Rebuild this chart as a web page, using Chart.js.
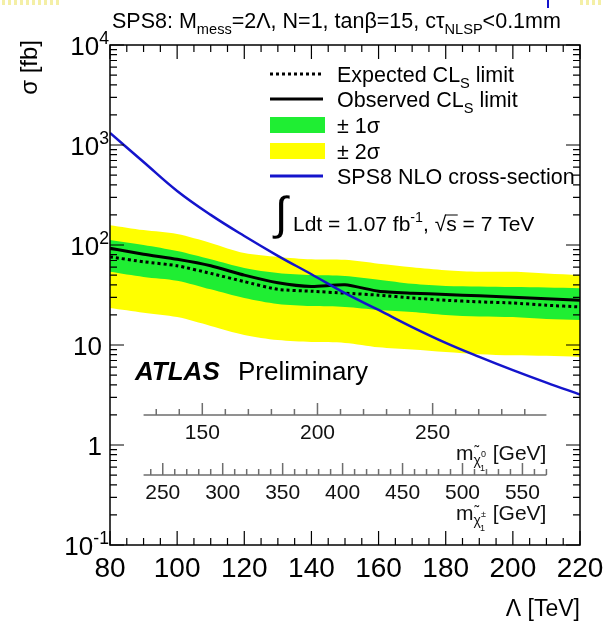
<!DOCTYPE html>
<html>
<head>
<meta charset="utf-8">
<script src="https://cdn.jsdelivr.net/npm/chart.js@4.4.1/dist/chart.umd.min.js"></script>
<style>
  html, body { margin: 0; padding: 0; background: #fff; }
  #wrap { width: 604px; height: 630px; }
</style>
</head>
<body>
<div id="wrap"><canvas id="sigmaChart" width="604" height="630"></canvas></div>
<script>
// Lambda scan points [TeV]
const lambdaTeV = [80, 90, 100, 110, 120, 130, 140, 150, 160, 170, 180, 190, 200, 210, 220];

// cross-section limits [fb]
const expectedLimit = [76, 68, 62, 52, 43, 36, 34.5, 33, 31.5, 29.5, 28, 27, 26.3, 25, 24];
const observedLimit = [93, 81, 72, 62, 50, 42, 38.5, 40, 34.5, 33, 32, 31, 30, 29, 28];
const oneSigmaUp = [112, 100, 87, 72, 59, 52.5, 50, 49, 45, 41, 39, 38.5, 38, 37.6, 37];
const oneSigmaDown = [54, 48, 44, 36, 29.5, 25.7, 24.5, 24, 22.4, 21.4, 20, 19.3, 19, 18.2, 17.8];
const twoSigmaUp = [158, 141, 129, 105, 83, 76, 72, 71, 65, 60, 56, 54, 54, 52, 50];
const twoSigmaDown = [23.4, 21, 19, 15.5, 12.6, 11.2, 10.7, 10.5, 9.5, 9.0, 8.5, 8.1, 7.9, 7.8, 7.6];
const nloXsec = [1320, 676, 347, 200, 123, 78, 51, 33, 22.4, 15.1, 10.5, 7.6, 5.6, 4.2, 3.2];

// tick labels
const xTicks = [80, 100, 120, 140, 160, 180, 200, 220];
const yTickValues = [0.1, 1, 10, 100, 1000, 10000];
const yTickLabels = [['10', '-1'], ['1', ''], ['10', ''], ['10', '2'], ['10', '3'], ['10', '4']];

// extra mass axes drawn inside the frame
const neutralinoTicks = [150, 200, 250];
const neutralinoRange = [124.5, 299.4];   // GeV over Lambda 90..210
const charginoTicks = [250, 300, 350, 400, 450, 500, 550];
const charginoRange = [234, 570];
const massAxisLambda = [90, 210];
const massAxisSigma = [2, 0.5];           // height of the two axes

const FONT = '"Liberation Sans", Arial, Helvetica, sans-serif';
const GREEN = '#1fee33';
const YELLOW = '#ffff00';
const BLUE = '#1414cc';

function pts(arr) {
    return lambdaTeV.map((x, i) => ({ x: x, y: arr[i] }));
}

function drawRich(ctx, parts, x, y, size, align) {
    let w = 0;
    const sized = parts.map(([t, k]) => {
        const s = k ? size * 0.68 : size;
        ctx.font = s + 'px ' + FONT;
        const mw = ctx.measureText(t).width;
        w += mw;
        return { t, k, s, mw };
    });
    let cx = align === 'right' ? x - w : align === 'center' ? x - w / 2 : x;
    ctx.textAlign = 'left';
    ctx.textBaseline = 'alphabetic';
    sized.forEach(p => {
        ctx.font = p.s + 'px ' + FONT;
        const dy = p.k === 'sub' ? size * 0.28 : p.k === 'sup' ? -size * 0.42 : 0;
        ctx.fillText(p.t, cx, y + dy);
        cx += p.mw;
    });
    return w;
}

// "m_chi [GeV]" with stacked indices, right aligned
function drawMassTitle(ctx, xRight, baseline, upper) {
    ctx.font = '21px ' + FONT;
    const wm = ctx.measureText('m').width;
    const wg = ctx.measureText(' [GeV]').width;
    ctx.font = '14px ' + FONT;
    const wc = ctx.measureText('\u03C7').width;
    const total = wm + wc + 6 + wg;
    let x = xRight - total;
    ctx.textAlign = 'left';
    ctx.textBaseline = 'alphabetic';
    ctx.font = '21px ' + FONT;
    ctx.fillText('m', x, baseline);
    x += wm;
    ctx.font = '14px ' + FONT;
    ctx.fillText('\u03C7', x, baseline + 5);
    ctx.fillText('\u02DC', x + 1, baseline - 4);
    ctx.font = '9px ' + FONT;
    ctx.fillText(upper, x + wc, baseline - 3);
    ctx.fillText('1', x + wc - 1, baseline + 11);
    x += wc + 6;
    ctx.font = '21px ' + FONT;
    ctx.fillText(' [GeV]', x, baseline);
}

const rootFrame = {
    id: 'rootFrame',
    afterDraw(chart) {
        const ctx = chart.ctx;
        const a = chart.chartArea;
        const xs = chart.scales.x;
        const ys = chart.scales.y;
        ctx.save();
        ctx.fillStyle = '#000';
        ctx.strokeStyle = '#000';

        // scan artefacts along the top edge
        ctx.fillStyle = '#f4efa6';
        for (let x = 2; x < 60; x += 6) ctx.fillRect(x, 0, 3, 5);
        for (let x = 580; x < 604; x += 6) ctx.fillRect(x, 0, 3, 5);
        ctx.fillStyle = BLUE;
        ctx.fillRect(547, 0, 2, 8);
        ctx.fillStyle = '#000';

        // frame
        ctx.lineWidth = 1.5;
        ctx.strokeRect(a.left, a.top, a.right - a.left, a.bottom - a.top);

        // x ticks, bottom and top
        ctx.lineWidth = 1.2;
        ctx.beginPath();
        for (let v = 80; v <= 220; v += 5) {
            const px = xs.getPixelForValue(v);
            const len = v % 20 === 0 ? 14 : 7;
            ctx.moveTo(px, a.bottom); ctx.lineTo(px, a.bottom - len);
            ctx.moveTo(px, a.top); ctx.lineTo(px, a.top + len);
        }
        // y ticks, left and right
        for (let d = -1; d <= 4; d++) {
            for (let m = 1; m <= 9; m++) {
                const v = m * Math.pow(10, d);
                if (v > 10000) break;
                const py = ys.getPixelForValue(v);
                const len = m === 1 ? 14 : 7;
                ctx.moveTo(a.left, py); ctx.lineTo(a.left + len, py);
                ctx.moveTo(a.right, py); ctx.lineTo(a.right - len, py);
            }
        }
        ctx.stroke();

        // x tick labels
        ctx.font = '28px ' + FONT;
        ctx.textAlign = 'center';
        ctx.textBaseline = 'alphabetic';
        xTicks.forEach(v => ctx.fillText(String(v), xs.getPixelForValue(v), a.bottom + 32));

        // y tick labels
        yTickValues.forEach((v, i) => {
            const py = ys.getPixelForValue(v);
            const [b, e] = yTickLabels[i];
            const parts = e ? [[b, ''], [e, 'sup']] : [[b, '']];
            drawRich(ctx, parts, e ? a.left - 1 : a.left - 8, py + 10, 26, 'right');
        });

        // axis titles
        ctx.font = '23px ' + FONT;
        ctx.textAlign = 'right';
        ctx.fillText('\u039B [TeV]', a.right, 616);
        ctx.save();
        ctx.translate(37, 40);
        ctx.rotate(-Math.PI / 2);
        ctx.font = '24px ' + FONT;
        ctx.textAlign = 'right';
        ctx.fillText('\u03C3 [fb]', 0, 0);
        ctx.restore();

        // title
        drawRich(ctx, [['SPS8: M', ''], ['mess', 'sub'], ['=2\u039B, N=1, tan\u03B2=15, c\u03C4', ''], ['NLSP', 'sub'], ['<0.1mm', '']],
            112, 28, 21.5, 'left');

        // mass axes
        const mx0 = xs.getPixelForValue(massAxisLambda[0]);
        const mx1 = xs.getPixelForValue(massAxisLambda[1]);
        const drawMassAxis = (sigma, range, ticks, minorStep, upper) => {
            const py = ys.getPixelForValue(sigma);
            const toPx = m => mx0 + (m - range[0]) / (range[1] - range[0]) * (mx1 - mx0);
            ctx.strokeStyle = '#6e6e6e';
            ctx.lineWidth = 1.5;
            ctx.beginPath();
            ctx.moveTo(mx0, py); ctx.lineTo(mx1, py);
            for (let m = Math.ceil(range[0] / minorStep) * minorStep; m <= range[1]; m += minorStep) {
                const len = m % 50 === 0 ? 12 : 6;
                ctx.moveTo(toPx(m), py); ctx.lineTo(toPx(m), py - len);
            }
            ctx.stroke();
            ctx.fillStyle = '#111';
            ctx.font = '21px ' + FONT;
            ctx.textAlign = 'center';
            ticks.forEach(t => ctx.fillText(String(t), toPx(t), py + 24));
            drawMassTitle(ctx, mx1, py + 45, upper);
        };
        drawMassAxis(massAxisSigma[0], neutralinoRange, neutralinoTicks, 10, '0');
        drawMassAxis(massAxisSigma[1], charginoRange, charginoTicks, 10, '\u00B1');

        // legend
        ctx.fillStyle = '#000';
        const lx = 270, tx = 337;
        ctx.lineWidth = 3;
        ctx.strokeStyle = '#000';
        ctx.setLineDash([3, 3]);
        ctx.beginPath(); ctx.moveTo(lx, 74); ctx.lineTo(lx + 53, 74); ctx.stroke();
        ctx.setLineDash([]);
        ctx.beginPath(); ctx.moveTo(lx, 99); ctx.lineTo(lx + 53, 99); ctx.stroke();
        ctx.fillStyle = GREEN; ctx.fillRect(lx, 117, 55, 16);
        ctx.fillStyle = YELLOW; ctx.fillRect(lx, 143, 55, 16);
        ctx.strokeStyle = BLUE;
        ctx.beginPath(); ctx.moveTo(lx, 176); ctx.lineTo(lx + 53, 176); ctx.stroke();
        ctx.fillStyle = '#000';
        drawRich(ctx, [['Expected CL', ''], ['S', 'sub'], [' limit', '']], tx, 82, 21.5, 'left');
        drawRich(ctx, [['Observed CL', ''], ['S', 'sub'], [' limit', '']], tx, 107, 21.5, 'left');
        drawRich(ctx, [['\u00B1 1\u03C3', '']], tx, 133, 21.5, 'left');
        drawRich(ctx, [['\u00B1 2\u03C3', '']], tx, 159, 21.5, 'left');
        drawRich(ctx, [['SPS8 NLO cross-section', '']], tx, 184, 21.5, 'left');

        // luminosity
        ctx.font = '46px ' + FONT;
        ctx.textAlign = 'left';
        ctx.fillText('\u222B', 275, 229);
        const w1 = drawRich(ctx, [['Ldt = 1.07 fb', ''], ['-1', 'sup'], [', ', '']], 293, 231, 21, 'left');
        ctx.font = '21px ' + FONT;
        const sx = 293 + w1;
        ctx.fillText('\u221A', sx, 231);
        const wr = ctx.measureText('\u221A').width;
        const ws = ctx.measureText('s').width;
        ctx.lineWidth = 1;
        ctx.strokeStyle = '#000';
        ctx.beginPath(); ctx.moveTo(sx + wr - 1, 215); ctx.lineTo(sx + wr + ws + 1, 215); ctx.stroke();
        ctx.fillText('s = 7 TeV', sx + wr, 231);

        // ATLAS Preliminary
        ctx.font = 'italic bold 26px ' + FONT;
        ctx.fillText('ATLAS', 135, 380);
        ctx.font = '26px ' + FONT;
        ctx.fillText('Preliminary', 238, 380);

        ctx.restore();
    }
};

document.addEventListener('DOMContentLoaded', function() {
    const ctx = document.getElementById('sigmaChart').getContext('2d');
    new Chart(ctx, {
        type: 'line',
        data: {
            datasets: [
                { data: pts(twoSigmaUp), fill: '+1', backgroundColor: YELLOW, borderWidth: 0, pointRadius: 0, tension: 0.3, order: 6 },
                { data: pts(twoSigmaDown), fill: false, borderWidth: 0, pointRadius: 0, tension: 0.3, order: 6 },
                { data: pts(oneSigmaUp), fill: '+1', backgroundColor: GREEN, borderWidth: 0, pointRadius: 0, tension: 0.3, order: 5 },
                { data: pts(oneSigmaDown), fill: false, borderWidth: 0, pointRadius: 0, tension: 0.3, order: 5 },
                { data: pts(expectedLimit), borderColor: '#000', borderWidth: 3, borderDash: [3, 3], pointRadius: 0, tension: 0.2, fill: false, order: 3 },
                { data: pts(observedLimit), borderColor: '#000', borderWidth: 3, pointRadius: 0, tension: 0.2, fill: false, order: 2 },
                { data: pts(nloXsec), borderColor: BLUE, borderWidth: 2.5, pointRadius: 0, tension: 0.4, fill: false, order: 1 }
            ]
        },
        options: {
            responsive: false,
            animation: false,
            layout: { padding: { left: 110, right: 24, top: 45, bottom: 85 } },
            plugins: { legend: { display: false }, tooltip: { enabled: false } },
            scales: {
                x: { type: 'linear', min: 80, max: 220, display: false },
                y: { type: 'logarithmic', min: 0.1, max: 10000, display: false }
            }
        },
        plugins: [rootFrame]
    });
});
</script>
</body>
</html>
